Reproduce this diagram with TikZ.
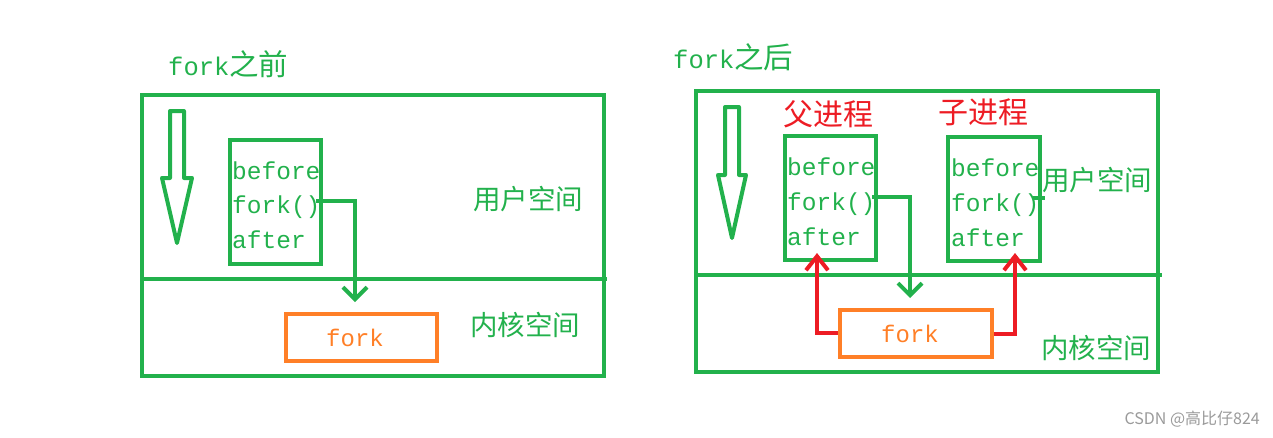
\documentclass[tikz,border=0pt]{standalone}
\usepackage{fontspec}
\newfontfamily\cjk{Noto Sans CJK SC}
\newfontfamily\mono{Liberation Mono}
\usetikzlibrary{arrows.meta}
\definecolor{G}{HTML}{22B14C}
\definecolor{O}{HTML}{FF7F27}
\definecolor{R}{HTML}{ED1C24}
\definecolor{W}{HTML}{9A9A9A}
\tikzset{
  gbox/.style={draw=G, line width=4pt, inner sep=0pt},
  obox/.style={draw=O, line width=4pt, inner sep=0pt},
  code/.style={text=G, anchor=base west, inner sep=0pt, font=\mono\fontsize{24.5}{30}\selectfont},
  ocode/.style={text=O, anchor=base, inner sep=0pt, font=\mono\fontsize{24}{30}\selectfont},
  glabel/.style={text=G, inner sep=0pt, font=\cjk\fontsize{27.5}{30}\selectfont},
  rlabel/.style={text=R, inner sep=0pt, font=\cjk\fontsize{30}{32}\selectfont},
  title/.style={text=G, anchor=base west, inner sep=0pt},
  gline/.style={draw=G, line width=4pt},
  gconn/.style={draw=G, line width=4pt, -{Straight Barb[length=12pt,width=24pt,line width=4pt]}},
  rconn/.style={draw=R, line width=4pt, -{Straight Barb[length=14pt,width=22pt,line width=4pt]}},
  hollow/.style={draw=G, line width=4pt, line join=round},
}
\begin{document}
\begin{tikzpicture}[x=1pt,y=-1pt]
\useasboundingbox (0,0) rectangle (1273,437);
% ---------- left panel ----------
\node[title] (t1) at (168,75) {{\mono\fontsize{25.5}{30}\selectfont fork}{\cjk\fontsize{29.5}{30}\selectfont 之前}};
\node[gbox, minimum width=462pt, minimum height=281pt] (L) at (373,235) {};
\coordinate (Ldiv) at (607,279.3);
\draw[gline] (L.west |- Ldiv) -- (Ldiv);
\draw[hollow] (170,111) -- (184,111) -- (184,178) -- (192,178) -- (177,243) -- (162,178) -- (170,178) -- cycle;
\node[gbox, minimum width=91pt, minimum height=124pt] (Lin) at (275.5,202) {};
\node[code] (Lb) at (232,179) {before};
\node[code] (Lf) at (232,213) {fork()};
\node[code] (La) at (232,248) {after};
\node[obox, minimum width=151pt, minimum height=47pt] (Lk) at (361.5,337.5) {};
\node[ocode] (Lkt) at (355,346) {fork};
\node[glabel] (Lu) at (528,199) {用户空间};
\node[glabel] (Lkl) at (525,325) {内核空间};
\coordinate (Ls) at (316,201);
\coordinate (Le) at (355,302);
\draw[gconn] (Ls) -- (Le |- Ls) -- (Le);
% ---------- right panel ----------
\node[title] (t2) at (673,68) {{\mono\fontsize{25.5}{30}\selectfont fork}{\cjk\fontsize{29.5}{30}\selectfont 之后}};
\node[gbox, minimum width=462pt, minimum height=281pt] (Rt) at (927,231.5) {};
\coordinate (Rdiv) at (1162,275);
\draw[gline] (Rt.west |- Rdiv) -- (Rdiv);
\draw[hollow] (725,107) -- (739,107) -- (739,175) -- (746,175) -- (732,238) -- (718,175) -- (725,175) -- cycle;
\node[rlabel] (P) at (828,114) {父进程};
\node[rlabel] (C) at (983,112) {子进程};
\node[gbox, minimum width=91pt, minimum height=124pt] (Pin) at (830.5,198) {};
\node[code] (Pb) at (787,175) {before};
\node[code] (Pf) at (787,210) {fork()};
\node[code] (Pa) at (787,245) {after};
\node[gbox, minimum width=91.5pt, minimum height=124pt] (Cin) at (993.75,199) {};
\node[code] (Cb) at (951,176) {before};
\node[code] (Cf) at (951,211) {fork()};
\node[code] (Ca) at (951,246) {after};
\node[glabel] (Ru) at (1097,180) {用户空间};
\node[glabel] (Rkl) at (1096,348) {内核空间};
\node[obox, minimum width=152pt, minimum height=47pt] (Rk) at (916,333.5) {};
\node[ocode] (Rkt) at (910,342) {fork};
\coordinate (Ps) at (872,197);
\coordinate (Pe) at (910,298);
\draw[gconn] (Ps) -- (Pe |- Ps) -- (Pe);
\coordinate (Cs) at (1033,198);
\coordinate (Ce) at (1045,198);
\draw[gline] (Cs) -- (Ce);
\coordinate (Rl) at (817,253);
\coordinate (Rr) at (1015,253);
\draw[rconn] (Rk.west |- 0,333) -- (Rl |- 0,333) -- (Rl);
\draw[rconn] (Rk.east |- 0,334) -- (Rr |- 0,334) -- (Rr);
% watermark
\node[text=W, inner sep=0pt, anchor=east, font=\cjk\fontsize{16}{18}\selectfont] (wm) at (1260,419) {CSDN @高比仔824};
\end{tikzpicture}
\end{document}
